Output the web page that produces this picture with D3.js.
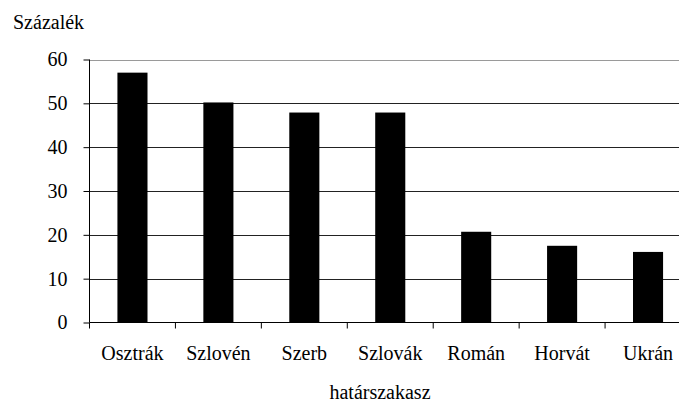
<!DOCTYPE html>
<html><head><meta charset="utf-8">
<script src="https://cdn.jsdelivr.net/npm/d3@7"></script>
</head><body style="margin:0">
<script>
const categories = ["Osztrák","Szlovén","Szerb","Szlovák","Román","Horvát","Ukrán"];
const values = [57, 50.2, 47.9, 47.9, 20.7, 17.5, 16.1];
const yTicks = [0,10,20,30,40,50,60];
const yTitle = "Százalék";
const xTitle = "határszakasz";

const W = 679, H = 404;
const m = {left: 89.5, top: 59.5, bottom: 322.5, right: 691};
const FF = '"Liberation Serif", monospace';
const FS = "20px";

const svg = d3.select("body").append("svg").attr("width", W).attr("height", H)
  .style("display", "block");

const x = d3.scaleBand().domain(categories).range([m.left, m.right]).padding(0);
const y = d3.scaleLinear().domain([0, 60]).range([m.bottom, m.top]);

// gridlines
svg.append("g").selectAll("line").data(yTicks.filter(t => t > 0)).join("line")
  .attr("x1", m.left).attr("x2", m.right)
  .attr("y1", d => Math.round(y(d)) + 0.5).attr("y2", d => Math.round(y(d)) + 0.5)
  .attr("stroke", d => d === 60 ? "#9a9a9a" : "#222").attr("stroke-width", 1);

// bars
const barFrac = 0.35;
svg.append("g").selectAll("rect").data(categories).join("rect")
  .attr("x", (d) => x(d) + x.bandwidth() * (1 - barFrac) / 2)
  .attr("width", x.bandwidth() * barFrac)
  .attr("y", (d, i) => y(values[i]))
  .attr("height", (d, i) => y(0) - y(values[i]))
  .attr("fill", "#000");

// y axis
const yAxis = d3.axisLeft(y).tickValues(yTicks).tickSize(6).tickPadding(16).tickFormat(d3.format("d"));
const gy = svg.append("g").attr("transform", `translate(${m.left},0)`).call(yAxis);
gy.attr("font-family", null).attr("font-size", null);
gy.select(".domain").attr("d", `M0,${y(60)}V${y(0)}`).attr("stroke", "#000");
gy.selectAll(".tick line").attr("stroke", "#000");
gy.selectAll(".tick text").style("font-family", FF).style("font-size", FS).attr("fill", "#000");

// x axis
const xAxis = d3.axisBottom(x).tickSize(0).tickPadding(23);
const gx = svg.append("g").attr("transform", `translate(0,${m.bottom})`).call(xAxis);
gx.attr("font-family", null).attr("font-size", null);
gx.select(".domain").attr("d", `M${m.left},0H${m.right}`).attr("stroke", "#000");
gx.selectAll(".tick text").style("font-family", FF).style("font-size", FS).attr("fill", "#000");
const bounds = categories.map(c => x(c));
gx.append("g").selectAll("line").data(bounds).join("line")
  .attr("x1", d => d).attr("x2", d => d).attr("y1", 0).attr("y2", 6).attr("stroke", "#000");

// titles
svg.append("text").attr("x", 13).attr("y", 29).style("font-family", FF).style("font-size", FS).text(yTitle);
svg.append("text").attr("x", 380).attr("y", 399).attr("text-anchor", "middle").style("font-family", FF).style("font-size", FS).text(xTitle);
</script>
</body></html>
